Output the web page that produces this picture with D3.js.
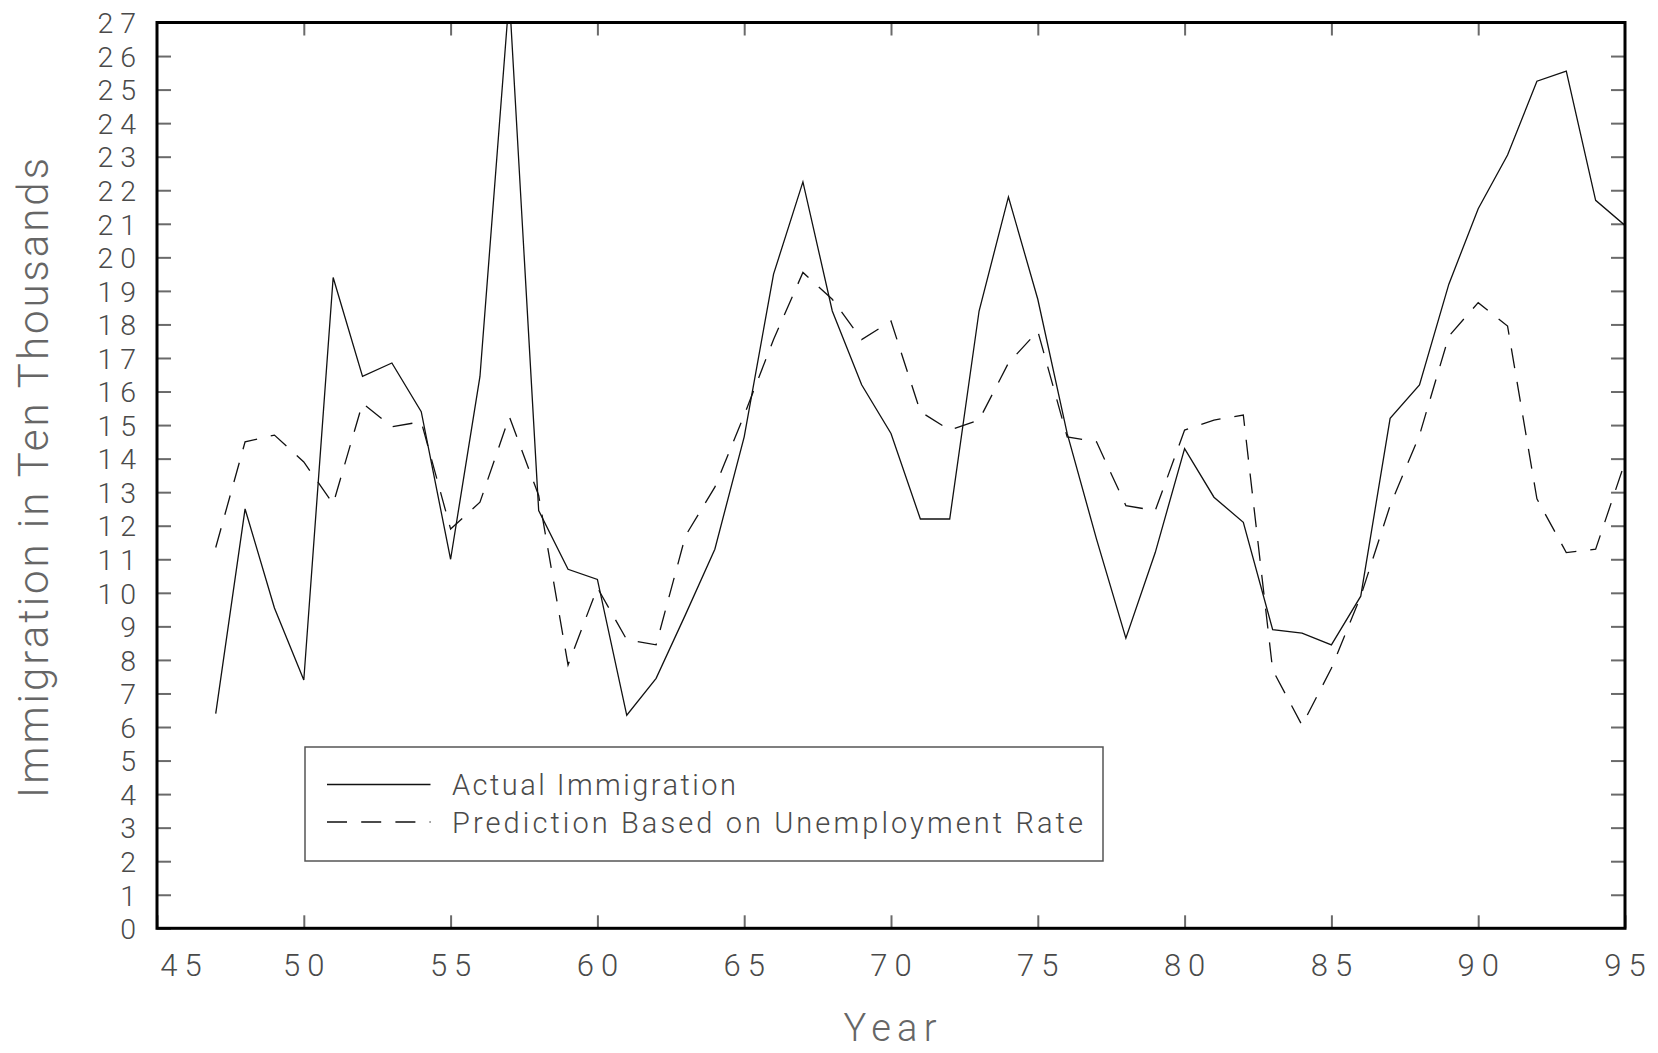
<!DOCTYPE html>
<html>
<head>
<meta charset="utf-8">
<script src="https://cdn.jsdelivr.net/npm/d3@7"></script>
<style>
  body { margin: 0; background: #fff; }
  svg { display: block; font-family: Roboto, "DejaVu Sans", sans-serif; font-weight: 300; }
</style>
</head>
<body>
<div id="chart"></div>
<script>
/* Immigration: actual vs prediction */

const width = 1658,
    height = 1053,
    margin = ({ top: 22.5, right: 33, bottom: 124.7, left: 157 });

// data (years 1947-1995, ten thousands)
const years = d3.range(47, 96);
const actual = [6.4, 12.5, 9.55, 7.4, 19.4, 16.45, 16.85, 15.4, 11.0, 16.45,
    27.8, 12.45, 10.7, 10.4, 6.35, 7.45, 9.35, 11.3, 14.65, 19.5,
    22.25, 18.4, 16.2, 14.75, 12.2, 12.2, 18.4, 21.8, 18.75, 14.75,
    11.6, 8.65, 11.2, 14.3, 12.85, 12.1, 8.9, 8.8, 8.45, 9.9,
    15.2, 16.2, 19.2, 21.45, 23.05, 25.25, 25.55, 21.7, 20.95];
const predicted = [11.35, 14.5, 14.7, 13.9, 12.65, 15.65, 14.95, 15.1, 11.9, 12.7,
    15.25, 12.9, 7.85, 10.15, 8.6, 8.45, 11.7, 13.15, 15.3, 17.55,
    19.55, 18.75, 17.55, 18.1, 15.4, 14.85, 15.15, 16.85, 17.8, 14.65,
    14.5, 12.6, 12.45, 14.85, 15.15, 15.3, 7.7, 6.05, 7.75, 9.9,
    12.6, 14.7, 17.65, 18.65, 17.95, 12.8, 11.2, 11.3, 13.9];
const xTicks = d3.range(45, 100, 5);
const yTicks = d3.range(0, 28);
const seriesNames = ["Actual Immigration", "Prediction Based on Unemployment Rate"];

const svg = d3.select("#chart")
    .append("svg")
    .attr("width", width)
    .attr("height", height);

let x = d3.scaleLinear()
    .domain([45, 95])
    .range([margin.left, width - margin.right]);

let y = d3.scaleLinear()
    .domain([0, 27])
    .range([height - margin.bottom, margin.top]);

const tickColor = "#6a6a6a",
    labelColor = "#4a4a4a";

// axes, ticks point inward
const gx = svg.append("g")
    .attr("transform", `translate(0,${y(0)})`)
    .call(d3.axisBottom(x).tickValues(xTicks).tickSizeInner(-13).tickSizeOuter(0).tickPadding(26));

const gy = svg.append("g")
    .attr("transform", `translate(${x(45)},0)`)
    .call(d3.axisLeft(y).tickValues(yTicks).tickSizeInner(-14).tickSizeOuter(0).tickPadding(14));

svg.append("g")
    .attr("transform", `translate(0,${y(27)})`)
    .call(d3.axisTop(x).tickValues(xTicks.slice(1, -1)).tickSizeInner(-13).tickSizeOuter(0).tickFormat(""));

svg.append("g")
    .attr("transform", `translate(${x(95)},0)`)
    .call(d3.axisRight(y).tickValues(yTicks.slice(1, -1)).tickSizeInner(-14).tickSizeOuter(0).tickFormat(""));

svg.selectAll(".domain").remove();
svg.selectAll(".tick line").attr("stroke", tickColor).attr("stroke-width", 2);
svg.selectAll(".tick text")
    .attr("fill", labelColor)
    .attr("font-size", 28.5)
    .attr("letter-spacing", 7)
    .attr("font-family", "Roboto, 'DejaVu Sans', sans-serif");

gx.selectAll(".tick text")
    .attr("font-size", 31)
    .attr("dy", "0.71em")
    .attr("dx", d => d === 45 ? 27 : 3);          // first label sits right of the corner
gy.selectAll(".tick text").attr("dy", "0.36em");

// clip for the lines
svg.append("clipPath").attr("id", "plot")
  .append("rect")
    .attr("x", x(45)).attr("y", y(27))
    .attr("width", x(95) - x(45)).attr("height", y(0) - y(27));

let line = d3.line()
    .x((d, i) => x(years[i]))
    .y(d => y(d));

svg.append("path")
    .datum(actual)
    .attr("d", line)
    .attr("clip-path", "url(#plot)")
    .attr("fill", "none")
    .attr("stroke", "#111")
    .attr("stroke-width", 1.3);

svg.append("path")
    .datum(predicted)
    .attr("d", line)
    .attr("clip-path", "url(#plot)")
    .attr("fill", "none")
    .attr("stroke", "#111")
    .attr("stroke-width", 1.3)
    .attr("stroke-dasharray", "20,14");

// frame
svg.append("rect")
    .attr("x", x(45)).attr("y", y(27))
    .attr("width", x(95) - x(45)).attr("height", y(0) - y(27))
    .attr("fill", "none")
    .attr("stroke", "#000")
    .attr("stroke-width", 3);

// axis titles
svg.append("text")
    .attr("text-anchor", "middle")
    .attr("x", 890)
    .attr("y", 1041)
    .attr("font-size", 38)
    .attr("fill", "#666")
    .attr("textLength", 93)
    .attr("lengthAdjust", "spacing")
    .text("Year");

svg.append("text")
    .attr("text-anchor", "middle")
    .attr("transform", "translate(48,478) rotate(-90)")
    .attr("font-size", 42)
    .attr("fill", "#666")
    .attr("textLength", 640)
    .attr("lengthAdjust", "spacing")
    .text("Immigration in Ten Thousands");

// legend
const legend = svg.append("g");
legend.append("rect")
    .attr("x", 305).attr("y", 747)
    .attr("width", 798).attr("height", 114)
    .attr("fill", "#fff")
    .attr("stroke", "#555")
    .attr("stroke-width", 1.5);

const legendRows = [
    { name: seriesNames[0], dash: null, y: 784.5, base: 795, len: 284 },
    { name: seriesNames[1], dash: "20,14.2", y: 822, base: 833, len: 631 }
];

legendRows.forEach(r => {
    legend.append("line")
        .attr("x1", 327).attr("x2", 430.5)
        .attr("y1", r.y).attr("y2", r.y)
        .attr("stroke", "#111")
        .attr("stroke-width", 1.3)
        .attr("stroke-dasharray", r.dash);
    legend.append("text")
        .attr("x", 452)
        .attr("y", r.base)
        .attr("font-size", 29)
        .attr("fill", labelColor)
        .attr("textLength", r.len)
        .attr("lengthAdjust", "spacing")
        .text(r.name);
});
</script>
</body>
</html>
